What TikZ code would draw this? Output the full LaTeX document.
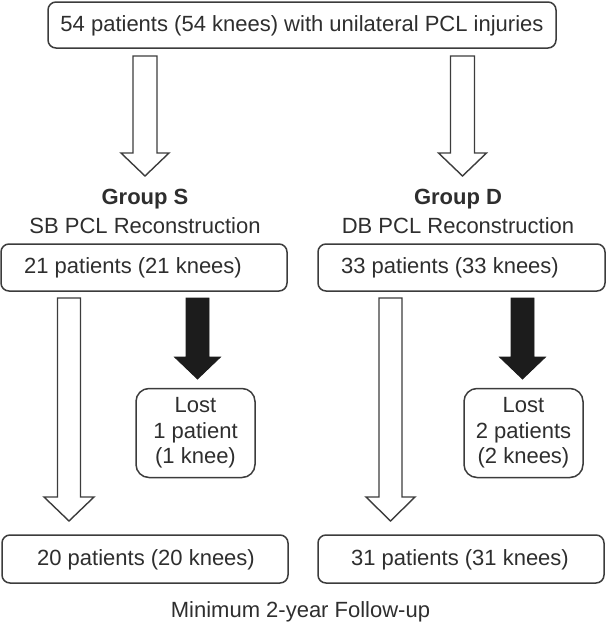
\documentclass[tikz,border=0pt]{standalone}
\usepackage{fontspec}
\setmainfont{Liberation Sans}
\usetikzlibrary{calc}
\definecolor{linec}{HTML}{3C3C3C}
\definecolor{textc}{HTML}{2E2E2E}
\definecolor{darkfill}{HTML}{1C1C1C}
\newcommand\blockarrow[6]{% style, start, tip, shaft half, head half, head length
  \draw[#1] let \p1=(#2), \p2=(#3) in
    (\x1-#4,\y1) -- (\x1+#4,\y1) -- (\x1+#4,\y2+#6) -- (\x1+#5,\y2+#6)
    -- (\x2,\y2) -- (\x1-#5,\y2+#6) -- (\x1-#4,\y2+#6) -- cycle;}
\begin{document}
\begin{tikzpicture}[x=1pt,y=-1pt,
  box/.style={draw=linec, line width=1.5pt, rounded corners=8pt, inner sep=0pt},
  lostbox/.style={draw=linec, line width=1.5pt, rounded corners=13pt, inner sep=0pt,
    minimum width=119pt, minimum height=89pt},
  txt/.style={text=textc, font=\fontsize{22}{25.5}\selectfont, inner sep=0pt},
  hollow/.style={draw=linec, line width=1.4pt, fill=white, line join=miter},
  solidarrow/.style={draw=darkfill, fill=darkfill, line width=0.8pt, line join=miter}]
\useasboundingbox (0,0) rectangle (606,625);
% boxes
\node[box, minimum width=508pt, minimum height=46pt] (top) at (302,25) {};
\node[txt] (toptxt) at (302,25.5) {54 patients (54 knees) with unilateral PCL injuries};
\node[txt, font=\fontsize{22}{25.5}\selectfont\bfseries] (gs) at (145,199) {Group S};
\node[txt] (gssub) at (145,226) {SB PCL Reconstruction};
\node[txt, font=\fontsize{22}{25.5}\selectfont\bfseries] (gd) at (458,199) {Group D};
\node[txt] (gdsub) at (458,226) {DB PCL Reconstruction};
\node[box, minimum width=286pt, minimum height=47pt] (s21) at (144,267.5) {};
\node[txt] (s21txt) at (133,268) {21 patients (21 knees)};
\node[box, minimum width=287pt, minimum height=47pt] (d33) at (461.5,267.5) {};
\node[txt] (d33txt) at (450,268) {33 patients (33 knees)};
\node[lostbox] (lostS) at (195.5,433) {};
\node[txt, align=center] (lostStxt) at (195.5,433) {Lost\\1 patient\\(1 knee)};
\node[lostbox] (lostD) at (523.5,433) {};
\node[txt, align=center] (lostDtxt) at (523.5,433) {Lost\\2 patients\\(2 knees)};
\node[box, minimum width=286pt, minimum height=48pt] (s20) at (145,559) {};
\node[txt] (s20txt) at (146,560) {20 patients (20 knees)};
\node[box, minimum width=286pt, minimum height=48pt] (d31) at (461,559) {};
\node[txt] (d31txt) at (460,560) {31 patients (31 knees)};
\node[txt] (foot) at (300.5,612) {Minimum 2-year Follow-up};
% arrow end points
\coordinate (a1s) at (145,56);   \coordinate (a1t) at (145,176);
\coordinate (a2s) at (462.5,56); \coordinate (a2t) at (462.5,176);
\coordinate (a3s) at (69,298);   \coordinate (a3t) at (69,521);
\coordinate (a4s) at (197.5,298);\coordinate (a4t) at (197.5,379);
\coordinate (a5s) at (390.5,298);\coordinate (a5t) at (390.5,521);
\coordinate (a6s) at (522.5,298);\coordinate (a6t) at (522.5,379);
\blockarrow{hollow}{a1s}{a1t}{12pt}{24pt}{23pt}
\blockarrow{hollow}{a2s}{a2t}{12pt}{24pt}{23pt}
\blockarrow{hollow}{a3s}{a3t}{11.5pt}{25pt}{24pt}
\blockarrow{solidarrow}{a4s}{a4t}{11.5pt}{23pt}{22pt}
\blockarrow{hollow}{a5s}{a5t}{11.5pt}{24.5pt}{24pt}
\blockarrow{solidarrow}{a6s}{a6t}{11.5pt}{23pt}{22pt}
\end{tikzpicture}
\end{document}
